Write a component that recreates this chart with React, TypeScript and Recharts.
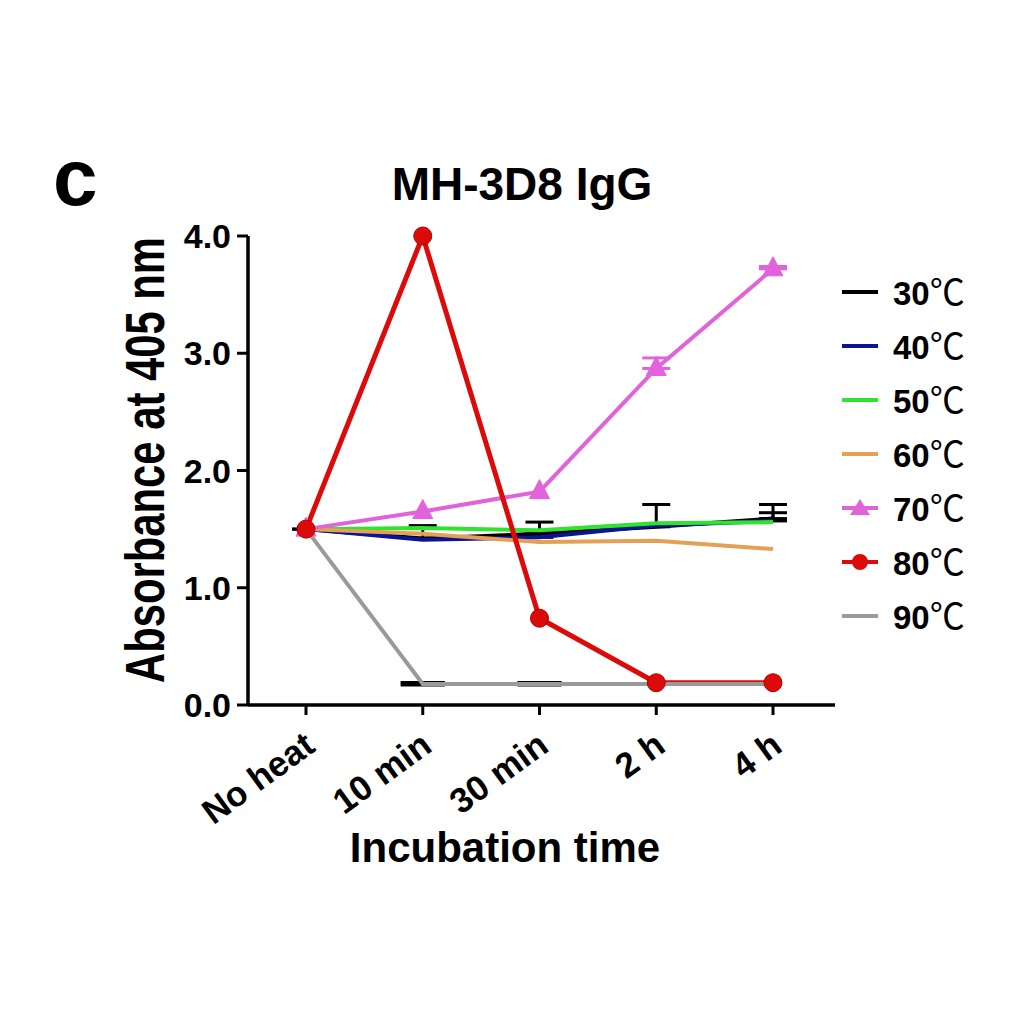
import { CartesianGrid, ErrorBar, Legend, Line, LineChart, XAxis, YAxis } from 'recharts';

const times = ['No heat', '10 min', '30 min', '2 h', '4 h'];
const yTicks = [0, 1, 2, 3, 4];

const c30 = [1.5, 1.42, 1.46, 1.52, 1.59];
const c40 = [1.5, 1.41, 1.43, 1.53, 1.57];
const c50 = [1.5, 1.51, 1.49, 1.55, 1.56];
const c60 = [1.5, 1.46, 1.39, 1.4, 1.33];
const c70 = [1.5, 1.65, 1.82, 2.87, 3.72];
const c80 = [1.5, 4.0, 0.74, 0.19, 0.19];
const c90 = [1.5, 0.18, 0.18, 0.18, 0.18];

// upper error only (Prism style); null = no bar drawn
const e30 = [0, 0.11, 0.1, 0.19, 0.12];
const e40 = [null, null, 0.04, null, 0.07];
const e70 = [null, null, null, 0.09, 0.02];
const e90 = [null, 0.004, 0.004, null, null];

const series = [
  { key: 't30', name: '30', color: '#000000', values: c30, err: e30, marker: 'none' },
  { key: 't40', name: '40', color: '#0a1496', values: c40, err: e40, marker: 'none' },
  { key: 't50', name: '50', color: '#2fe32f', values: c50, err: null, marker: 'none' },
  { key: 't60', name: '60', color: '#e6a055', values: c60, err: null, marker: 'none' },
  { key: 't70', name: '70', color: '#e262dc', values: c70, err: e70, marker: 'triangle' },
  { key: 't80', name: '80', color: '#dd0a0a', values: c80, err: null, marker: 'circle' },
  { key: 't90', name: '90', color: '#9a9a9a', values: c90, err: e90, marker: 'none' },
];

const data = times.map((t, i) => {
  const row: any = { time: t };
  series.forEach((s) => {
    row[s.key] = s.values[i];
    if (s.err && s.err[i] != null) row[s.key + 'e'] = [0, s.err[i]];
  });
  return row;
});

const FONT = '"Liberation Sans", Arial, sans-serif';

const Triangle = (props: any) => {
  const { cx, cy, fill, index } = props;
  if (cx == null || cy == null) return <g key={index} />;
  const r = 10;
  return (
    <polygon
      key={index}
      points={`${cx},${cy - r - 2} ${cx - r},${cy + r * 0.7} ${cx + r},${cy + r * 0.7}`}
      fill={fill}
      stroke={fill}
    />
  );
};

const Circle = (props: any) => {
  const { cx, cy, fill, index } = props;
  if (cx == null || cy == null) return <g key={index} />;
  return <circle key={index} cx={cx} cy={cy} r={9} fill={fill} stroke="#b00000" strokeWidth={1} />;
};

const YTick = (props: any) => {
  const { x, y, payload } = props;
  return (
    <text x={x} y={y} dy="0.36em" textAnchor="end" fontFamily={FONT} fontWeight="bold" fontSize={34} fill="#000">
      {Number(payload.value).toFixed(1)}
    </text>
  );
};

const XTick = (props: any) => {
  const { x, payload } = props;
  const px = x + 11;
  const py = 750;
  return (
    <text
      x={px}
      y={py}
      textAnchor="end"
      transform={`rotate(-36 ${px} ${py})`}
      fontFamily={FONT}
      fontWeight="bold"
      fontSize={35}
      fill="#000"
    >
      {payload.value}
    </text>
  );
};

const YLabel = () => (
  <text
    transform="translate(164 460) rotate(-90) scale(0.76 1)"
    textAnchor="middle"
    fontFamily={FONT}
    fontWeight="bold"
    fontSize={55}
    fill="#000"
  >
    Absorbance at 405 nm
  </text>
);

const XLabel = () => (
  <text x={505} y={862} textAnchor="middle" fontFamily={FONT} fontWeight="bold" fontSize={42} fill="#000">
    Incubation time
  </text>
);

const LegendIcon = ({ color, marker }: { color: string; marker: string }) => (
  <svg width={36} height={20} style={{ display: 'block' }}>
    <line x1={0} y1={10} x2={36} y2={10} stroke={color} strokeWidth={4} />
    {marker === 'triangle' && <polygon points="18,1 8,17 28,17" fill={color} />}
    {marker === 'circle' && <circle cx={18} cy={10} r={8} fill={color} />}
  </svg>
);

const LegendBox = () => (
  <div style={{ position: 'absolute', left: 842, top: 265 }}>
    {series.map((s) => (
      <div key={s.key} style={{ display: 'flex', alignItems: 'center', height: 54 }}>
        <LegendIcon color={s.color} marker={s.marker} />
        <span
          style={{ marginLeft: 15, fontFamily: FONT, fontWeight: 'bold', fontSize: 33, color: '#000', lineHeight: '54px' }}
        >
          {s.name}
          <span style={{ fontFamily: '"Noto Sans CJK SC", sans-serif', fontWeight: 400, fontSize: 35 }}>℃</span>
        </span>
      </div>
    ))}
  </div>
);

const App = () => (
  <div style={{ position: 'absolute', left: 0, top: 0, width: 1024, height: 1024, background: '#fff' }}>
    <div
      style={{ position: 'absolute', left: 53, top: 132, fontFamily: FONT, fontWeight: 'bold', fontSize: 80, color: '#000' }}
    >
      c
    </div>
    <div
      style={{
        position: 'absolute',
        left: 0,
        width: 1044,
        top: 157,
        textAlign: 'center',
        fontFamily: FONT,
        fontWeight: 'bold',
        fontSize: 46,
        color: '#000',
      }}
    >
      MH-3D8 IgG
    </div>
    <LineChart width={1024} height={1024} data={data} margin={{ top: 236, right: 189, bottom: 169, left: 148 }}>
      <CartesianGrid stroke="none" />
      <XAxis
        dataKey="time"
        scale="point"
        padding={{ left: 58, right: 62 }}
        height={150}
        tickSize={10}
        tick={<XTick />}
        axisLine={{ stroke: '#000', strokeWidth: 3.5 }}
        tickLine={{ stroke: '#000', strokeWidth: 3 }}
        interval={0}
        label={<XLabel />}
      />
      <YAxis
        domain={[0, 4]}
        ticks={yTicks}
        width={100}
        tickSize={11}
        tickMargin={6}
        tick={<YTick />}
        axisLine={{ stroke: '#000', strokeWidth: 3.5 }}
        tickLine={{ stroke: '#000', strokeWidth: 3 }}
        label={<YLabel />}
      />
      {series.map((s) => (
        <Line
          key={s.key}
          dataKey={s.key}
          name={s.name}
          stroke={s.color}
          strokeWidth={s.key === 't80' ? 5 : 4}
          fill={s.color}
          dot={s.marker === 'triangle' ? <Triangle /> : s.marker === 'circle' ? <Circle /> : false}
          activeDot={false}
          isAnimationActive={false}
        >
          {s.err && (
            <ErrorBar
              dataKey={s.key + 'e'}
              direction="y"
              width={s.key === 't90' ? 22 : 14}
              strokeWidth={s.key === 't90' ? 5 : 3}
              stroke={s.key === 't70' ? s.color : '#000'}
            />
          )}
        </Line>
      ))}
      <Legend content={<LegendBox />} wrapperStyle={{ position: 'absolute', left: 0, top: 0, width: 0, height: 0 }} />
    </LineChart>
  </div>
);

export default App;
